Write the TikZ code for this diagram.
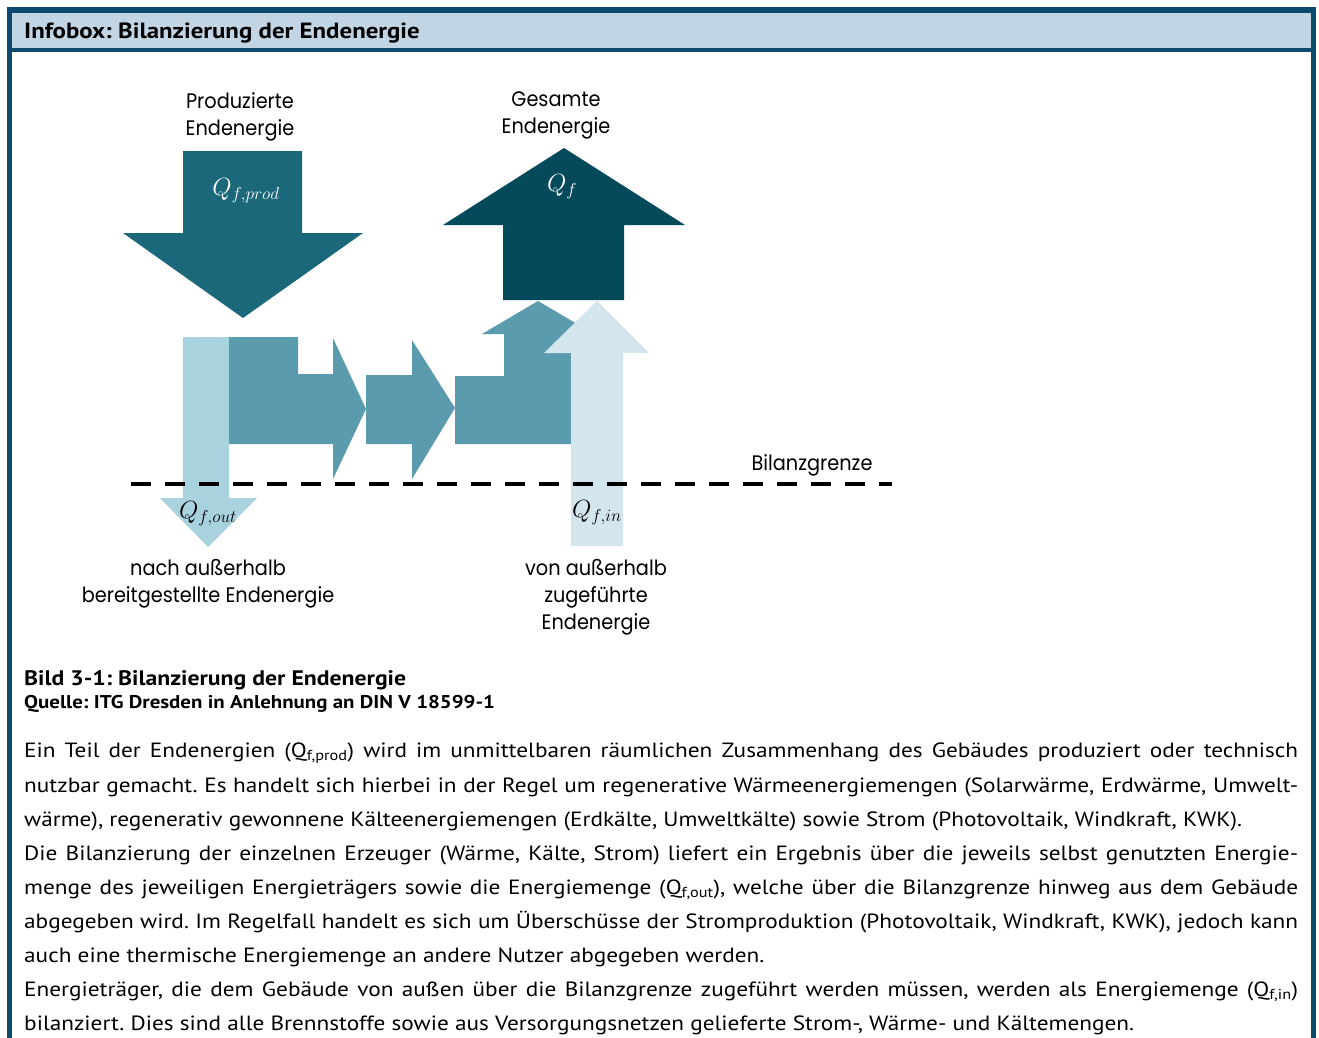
\documentclass[tikz,border=0pt]{standalone}
\usepackage{fontspec}
\setmainfont{PT Sans}[FakeStretch=1.13]
\newfontfamily\labelfont[FakeStretch=0.92]{Poppins}

\definecolor{framecol}{RGB}{11,74,110}
\definecolor{headcol}{RGB}{194,213,229}
\definecolor{prodcol}{RGB}{27,104,122}
\definecolor{totcol}{RGB}{4,74,90}
\definecolor{flowcol}{RGB}{90,155,174}
\definecolor{outcol}{RGB}{168,210,222}
\definecolor{incol}{RGB}{211,230,237}

\tikzset{
  lbl/.style={font=\labelfont\fontsize{21}{27}\selectfont, align=center, inner sep=0pt},
  qlbl/.style={font=\fontsize{26}{26}\selectfont, inner sep=0pt},
  bodyline/.style={anchor=base west, inner sep=0pt, font=\fontsize{20.6}{24}\selectfont},
  capline/.style={anchor=base west, inner sep=0pt, font=\bfseries},
}
\newcommand{\jline}[1]{\makebox[1274pt][s]{#1}}
\frenchspacing

\begin{document}
\begin{tikzpicture}[x=1pt,y=-1pt]
			%%%%% START %%%%%
			\useasboundingbox (0,0) rectangle (1319,1038);
			\clip (0,0) rectangle (1319,1038);
			
			% infobox frame
			\fill[framecol] (7,7) rectangle (1316,1045);
			\fill[white] (12,52) rectangle (1311,1045);
			\fill[headcol] (12,13) rectangle (1311,48);
			\node[capline, font=\bfseries\fontsize{22}{22}\selectfont] (head) at (24,39) {Infobox: Bilanzierung der Endenergie};
			
			% produced and total energy
			\fill[prodcol] (183,151) -- (302,151) -- (302,233) -- (363,233) -- (243,318) -- (123,233) -- (183,233) -- cycle;
			\fill[totcol] (503,300) -- (624,300) -- (624,225) -- (685,225) -- (564,148) -- (443,225) -- (503,225) -- cycle;
			
			% flows inside the building
			\fill[outcol] (183,337) -- (229,337) -- (229,498) -- (257,498) -- (208,547) -- (160,498) -- (183,498) -- cycle;
			\fill[flowcol] (229,337) -- (298,337) -- (298,374) -- (333,374) -- (333,338) -- (366,409) -- (333,479) -- (333,444) -- (229,444) -- cycle;
			\fill[flowcol] (366,375) -- (412,375) -- (412,340) -- (455,408) -- (412,479) -- (412,444) -- (366,444) -- cycle;
			\fill[flowcol] (455,376) -- (504,376) -- (504,334) -- (482,334) -- (538,301) -- (594,334) -- (572,334) -- (572,444) -- (455,444) -- cycle;
			\fill[incol] (571,546) -- (623,546) -- (623,353) -- (649,353) -- (597,301) -- (544,353) -- (571,353) -- cycle;
			
			% balance boundary
			\draw[line width=4.5pt, dash pattern=on 20pt off 14pt] (131,484) -- (892,484);
			\node[lbl] (grenze) at (812,465) {Bilanzgrenze};
			
			\node[qlbl, white] (qprod) at (246,191) {$Q_{f,prod}$};
			\node[qlbl, white] (qtot) at (562,187) {$Q_f$};
			\node[qlbl] (qout) at (208,514) {$Q_{f,out}$};
			\node[qlbl] (qin) at (597,513) {$Q_{f,in}$};
			
			\node[lbl] (prod) at (240,117) {Produzierte\\Endenergie};
			\node[lbl] (total) at (556,115) {Gesamte\\Endenergie};
			\node[lbl] (outside) at (208,584) {nach außerhalb\\bereitgestellte Endenergie};
			\node[lbl] (inside) at (596,597) {von außerhalb\\zugeführte\\Endenergie};
			
			% caption
			\node[capline, font=\bfseries\fontsize{21}{21}\selectfont] (cap) at (24,685) {Bild 3-1: Bilanzierung der Endenergie};
			\node[capline, font=\bfseries\fontsize{18.5}{18.5}\selectfont] (src) at (24,708) {Quelle: ITG Dresden in Anlehnung an DIN V 18599-1};
			
			% body text
			\node[bodyline] (t1) at (24,757) {\jline{Ein Teil der Endenergien (Q\textsubscript{f,prod}) wird im unmittelbaren räumlichen Zusammenhang des Gebäudes produziert oder technisch}};
			\node[bodyline] (t2) at (24,792) {\jline{nutzbar gemacht. Es handelt sich hierbei in der Regel um regenerative Wärmeenergiemengen (Solarwärme, Erdwärme, Umwelt-}};
			\node[bodyline] (t3) at (24,826) {wärme), regenerativ gewonnene Kälteenergiemengen (Erdkälte, Umweltkälte) sowie Strom (Photovoltaik, Windkraft, KWK).};
			\node[bodyline] (t4) at (24,860) {\jline{Die Bilanzierung der einzelnen Erzeuger (Wärme, Kälte, Strom) liefert ein Ergebnis über die jeweils selbst genutzten Energie-}};
			\node[bodyline] (t5) at (24,894) {\jline{menge des jeweiligen Energieträgers sowie die Energiemenge (Q\textsubscript{f,out}), welche über die Bilanzgrenze hinweg aus dem Gebäude}};
			\node[bodyline] (t6) at (24,928) {\jline{abgegeben wird. Im Regelfall handelt es sich um Überschüsse der Stromproduktion (Photovoltaik, Windkraft, KWK), jedoch kann}};
			\node[bodyline] (t7) at (24,962) {auch eine thermische Energiemenge an andere Nutzer abgegeben werden.};
			\node[bodyline] (t8) at (24,996) {\jline{Energieträger, die dem Gebäude von außen über die Bilanzgrenze zugeführt werden müssen, werden als Energiemenge (Q\textsubscript{f,in})}};
			\node[bodyline] (t9) at (24,1030) {bilanziert. Dies sind alle Brennstoffe sowie aus Versorgungsnetzen gelieferte Strom-, Wärme- und Kältemengen.};
			
			%%%%% END %%%%%
\end{tikzpicture}
\end{document}
